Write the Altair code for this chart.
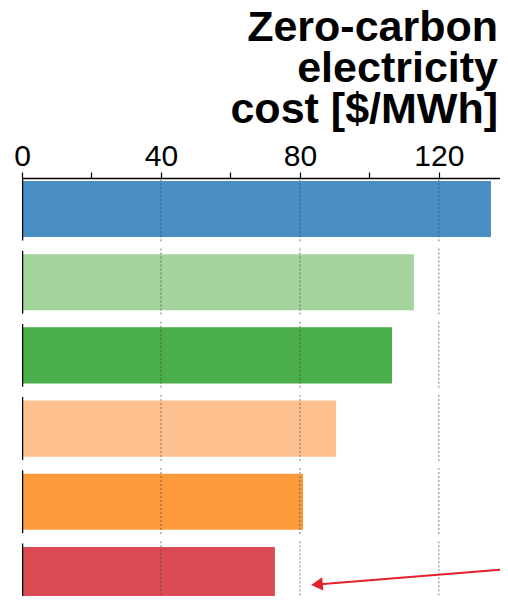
import altair as alt
import pandas as pd

# ---- data ----
rank = [0, 1, 2, 3, 4, 5]
costs = [135.0, 112.8, 106.5, 90.4, 80.9, 72.8]
colors = ["#4a8fc4", "#a2d49c", "#4aae4a", "#fdc08e", "#fd9b3c", "#da4a52"]
grid_values = [40, 80, 120]
tick_values = list(range(0, 131, 10))
arrow_x = [137.6, 84.9]
arrow_y = [4.93, 5.129]

bars_df = pd.DataFrame({"rank": rank, "cost": costs, "color": colors})
grid_df = pd.DataFrame([{"rank": r, "g": g} for r in rank for g in grid_values])
arrow_df = pd.DataFrame({"ax": arrow_x, "ay": arrow_y})
head_df = pd.DataFrame({"ax": [arrow_x[-1]], "ay": [arrow_y[-1]]})

xscale = alt.Scale(domain=[0, 137.6], nice=False, zero=False)
yscale = alt.Scale(domain=[-0.4235, 5.287], reverse=True, nice=False, zero=False)

xaxis = alt.Axis(
    orient="top", values=tick_values,
    labelExpr="datum.value % 40 == 0 ? datum.label : ''",
    tickSize=6, tickColor="black", tickWidth=1.2,
    domainColor="black", domainWidth=1.5,
    labelFontSize=30, labelFont="Liberation Sans", labelColor="black",
    labelPadding=1, labelFlush=False, labelOverlap=False, grid=False, title=None,
)

base_bars = alt.Chart(bars_df).transform_calculate(
    y0="datum.rank - 0.383", y1="datum.rank + 0.383", zero="0"
)

bars = base_bars.mark_bar(opacity=1, clip=True).encode(
    x=alt.X("zero:Q", scale=xscale, axis=xaxis),
    x2="cost:Q",
    y=alt.Y("y0:Q", scale=yscale, axis=None),
    y2="y1:Q",
    color=alt.Color("color:N", scale=None),
)

left_rules = alt.Chart(bars_df).transform_calculate(
    y0="datum.rank - 0.43", y1="datum.rank + 0.43", zero="0"
).mark_rule(color="black", strokeWidth=2.5, clip=True).encode(
    x=alt.X("zero:Q", scale=xscale),
    y=alt.Y("y0:Q", scale=yscale),
    y2="y1:Q",
)

grid = alt.Chart(grid_df).transform_calculate(
    y0="datum.rank - 0.46", y1="datum.rank + 0.46"
).mark_rule(color="#444444", strokeWidth=1, strokeDash=[2, 2], opacity=0.7, clip=True).encode(
    x=alt.X("g:Q", scale=xscale),
    y=alt.Y("y0:Q", scale=yscale),
    y2="y1:Q",
)

arrow_line = alt.Chart(arrow_df).mark_line(color="#e4202a", strokeWidth=2).encode(
    x=alt.X("ax:Q", scale=xscale),
    y=alt.Y("ay:Q", scale=yscale),
)

arrow_head = alt.Chart(head_df).mark_point(
    shape="triangle-left", filled=True, color="#e4202a", size=180, angle=355, opacity=1
).encode(
    x=alt.X("ax:Q", scale=xscale),
    y=alt.Y("ay:Q", scale=yscale),
)

chart = alt.layer(bars, grid, left_rules, arrow_line, arrow_head).properties(
    width=478,
    height=418,
    autosize=alt.AutoSizeParams(type="none"),
    padding={"left": 14, "top": 170, "right": 0, "bottom": 0},
    title=alt.TitleParams(
        text=["Zero-carbon", "electricity\u00a0", "cost [$/MWh]"],
        anchor="end", frame="group", align="right",
        font="Liberation Sans", fontSize=43, fontWeight="bold", color="black",
        lineHeight=41, dx=-2, offset=9,
    ),
).configure_view(stroke=None)

chart.save("out.html", embed_options={"renderer": "svg", "actions": False})
